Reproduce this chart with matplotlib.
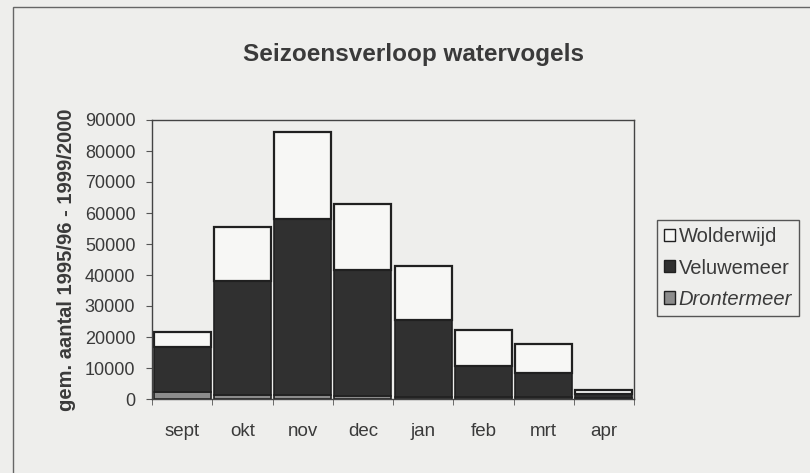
import matplotlib
matplotlib.use("Agg")
import matplotlib.pyplot as plt
import numpy as np
from matplotlib.patches import Rectangle, Patch

months = ["sept", "okt", "nov", "dec", "jan", "feb", "mrt", "apr"]
drontermeer = [2300, 1300, 1200, 1000, 800, 800, 700, 400]
veluwemeer = [14400, 36700, 56900, 40500, 24800, 10000, 7800, 1300]
wolderwijd = [4900, 17600, 28100, 21300, 17400, 11600, 9100, 1300]
yticks = [0, 10000, 20000, 30000, 40000, 50000, 60000, 70000, 80000, 90000]

plt.rcParams['font.family'] = ['Liberation Sans', 'DejaVu Sans']
bg = "#eeeeec"
txt = "#3a3a3a"
fig = plt.figure(figsize=(8.1, 4.73), dpi=100, facecolor=bg)
ax = fig.add_axes([152/810, 1-399/473, (634-152)/810, (399-120)/473])
ax.set_facecolor(bg)

x = np.arange(len(months))
w = 0.95
d = np.array(drontermeer)
v = np.array(veluwemeer)
wo = np.array(wolderwijd)
ax.bar(x, d, w, color="#8c8c8c", edgecolor="#202020", linewidth=1.2, label="Drontermeer")
ax.bar(x, v, w, bottom=d, color="#303030", edgecolor="#202020", linewidth=1.2, label="Veluwemeer")
ax.bar(x, wo, w, bottom=d+v, color="#f7f7f5", edgecolor="#202020", linewidth=1.6, label="Wolderwijd")

ax.set_xlim(-0.5, len(months)-0.5)
ax.set_ylim(0, 90000)
ax.set_yticks(yticks)
ax.set_yticklabels([str(t) for t in yticks], fontsize=13, color=txt)
ax.set_xticks(x)
ax.set_xticklabels(months, fontsize=13.5, color=txt)
ax.tick_params(axis='x', which='major', length=0, pad=17)
ax.set_xticks(np.arange(-0.5, len(months)), minor=True)
ax.tick_params(axis='x', which='minor', length=4, color="#555555", direction='out')
ax.tick_params(axis='y', length=4, color="#555555", direction='out', pad=8)
for s in ax.spines.values():
    s.set_color("#444444")
    s.set_linewidth(1.0)

ax.set_ylabel("gem. aantal 1995/96 - 1999/2000", fontsize=14.5, fontweight='bold', color=txt, labelpad=6)
fig.text(414/810, 1-55/473, "Seizoensverloop watervogels", fontsize=17.5, fontweight='bold',
         color=txt, ha='center', va='center')

handles = [Patch(facecolor="#f7f7f5", edgecolor="#202020", linewidth=1.0),
           Patch(facecolor="#303030", edgecolor="#202020", linewidth=1.0),
           Patch(facecolor="#8c8c8c", edgecolor="#202020", linewidth=1.0)]
leg = fig.legend(handles, ["Wolderwijd", "Veluwemeer", "Drontermeer"],
                 loc='center', bbox_to_anchor=(728/810, 1-268/473),
                 fontsize=14.5, frameon=True, fancybox=False, framealpha=1,
                 facecolor=bg, edgecolor="#555555", handlelength=0.55, handleheight=0.55,
                 handletextpad=0.2, borderpad=0.35, labelspacing=0.6, borderaxespad=0)
for t in leg.get_texts():
    t.set_color(txt)
leg.get_texts()[2].set_style('italic')

fig.patches.append(Rectangle((13/810, -0.05), 1.2, 1-7/473+0.05, transform=fig.transFigure,
                             fill=False, edgecolor="#666666", linewidth=1.0))
fig.savefig("out.png", dpi=100, facecolor=bg)
